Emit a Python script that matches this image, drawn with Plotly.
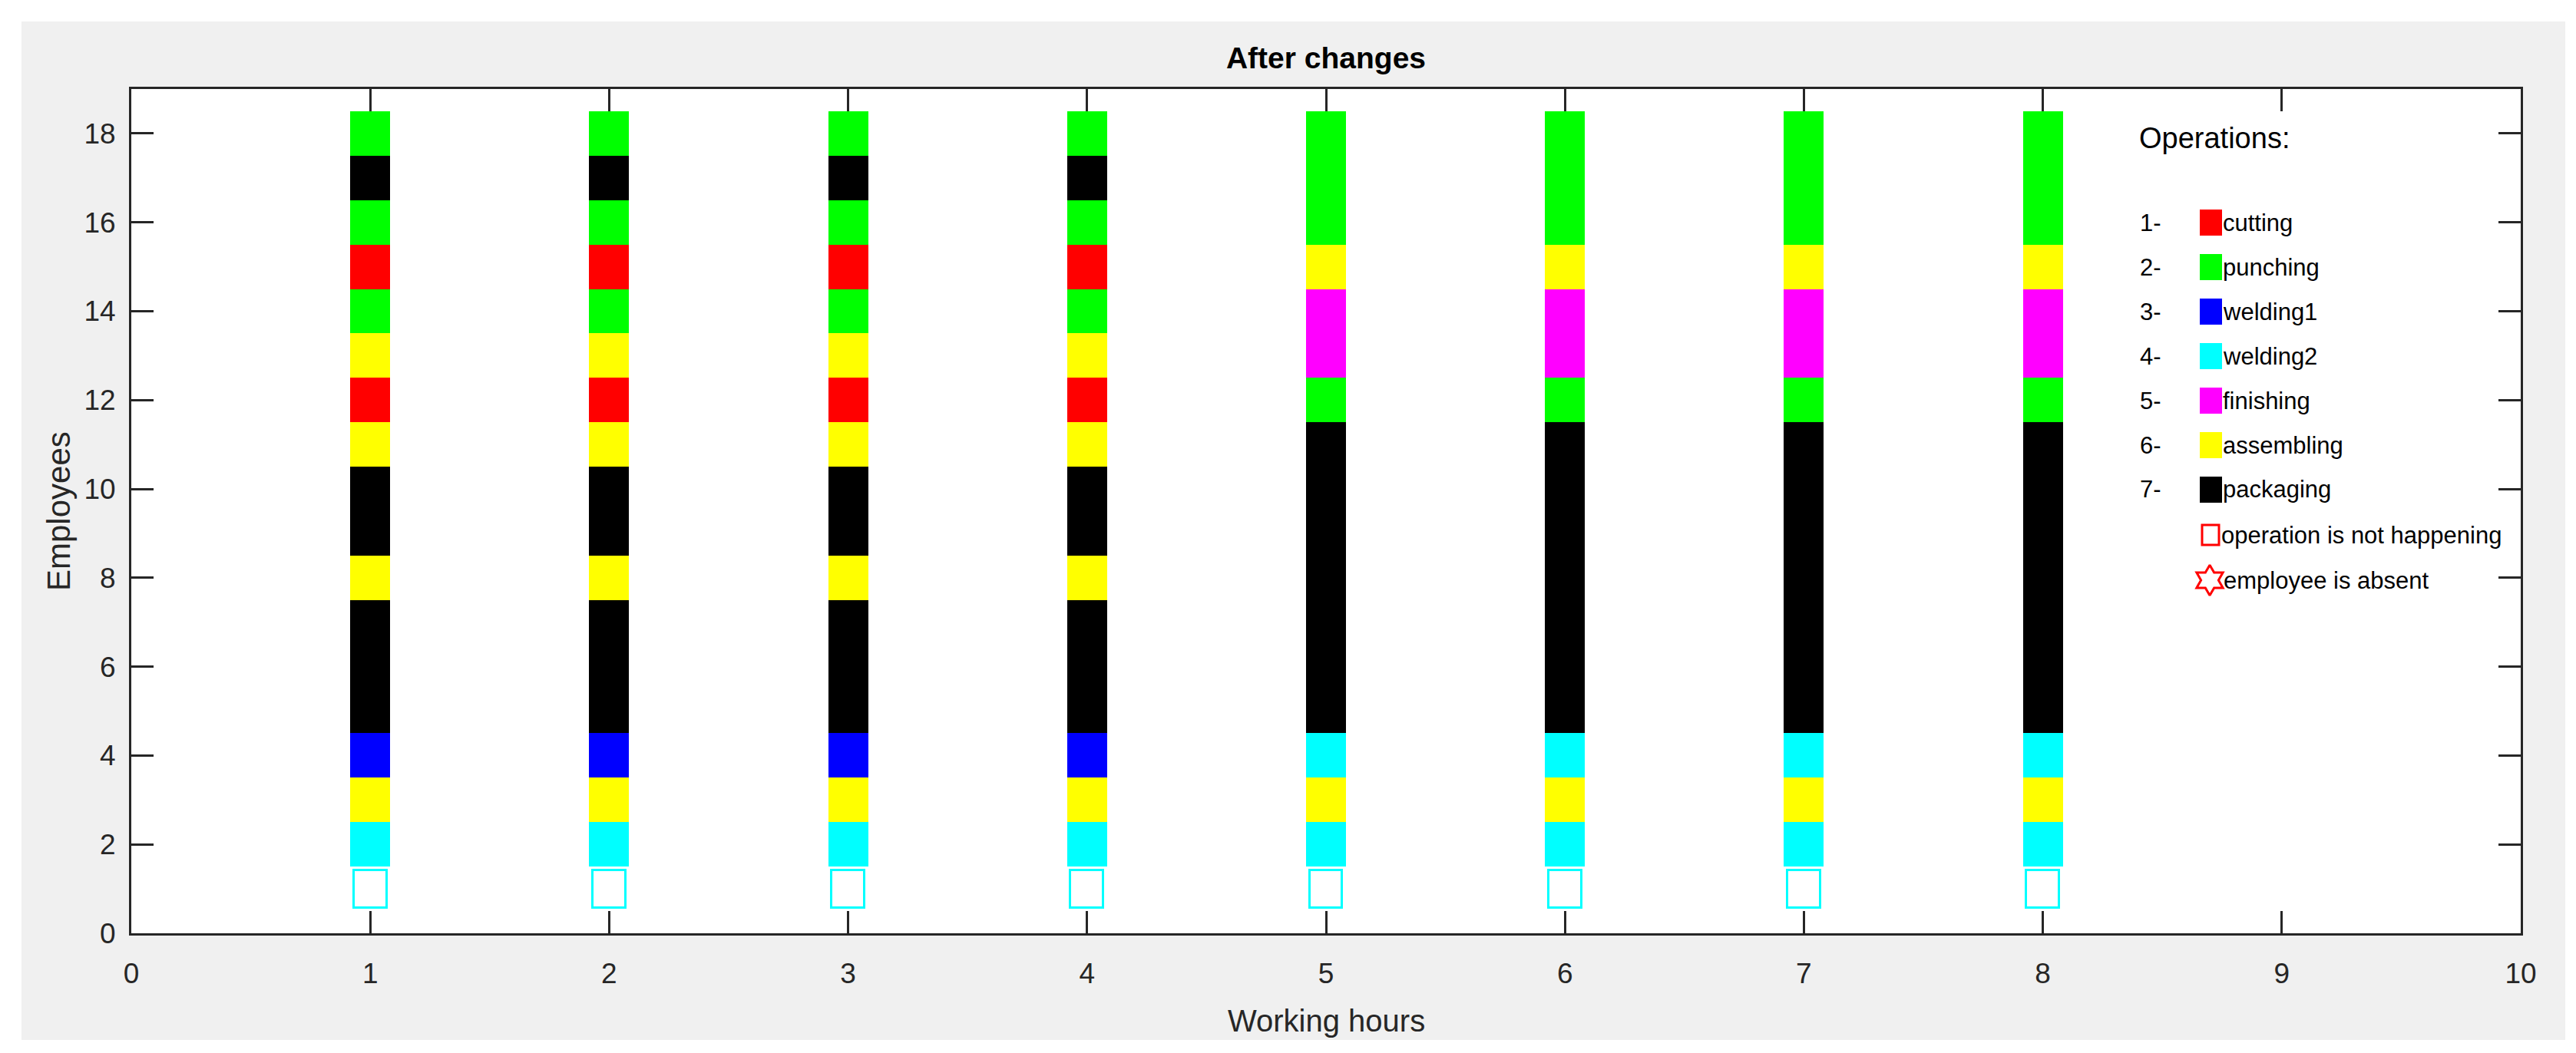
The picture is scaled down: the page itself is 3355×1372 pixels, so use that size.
import plotly.graph_objects as go

# ---------------- data ----------------
hours = [1, 2, 3, 4, 5, 6, 7, 8]
employees = list(range(1, 19))

# operation code per employee (1..18, bottom to top) for each working hour
# 0 = operation is not happening
op_hour1 = [0, 4, 6, 3, 7, 7, 7, 6, 7, 7, 6, 1, 6, 2, 1, 2, 7, 2]
op_hour2 = [0, 4, 6, 3, 7, 7, 7, 6, 7, 7, 6, 1, 6, 2, 1, 2, 7, 2]
op_hour3 = [0, 4, 6, 3, 7, 7, 7, 6, 7, 7, 6, 1, 6, 2, 1, 2, 7, 2]
op_hour4 = [0, 4, 6, 3, 7, 7, 7, 6, 7, 7, 6, 1, 6, 2, 1, 2, 7, 2]
op_hour5 = [0, 4, 6, 4, 7, 7, 7, 7, 7, 7, 7, 2, 5, 5, 6, 2, 2, 2]
op_hour6 = [0, 4, 6, 4, 7, 7, 7, 7, 7, 7, 7, 2, 5, 5, 6, 2, 2, 2]
op_hour7 = [0, 4, 6, 4, 7, 7, 7, 7, 7, 7, 7, 2, 5, 5, 6, 2, 2, 2]
op_hour8 = [0, 4, 6, 4, 7, 7, 7, 7, 7, 7, 7, 2, 5, 5, 6, 2, 2, 2]
schedule = [op_hour1, op_hour2, op_hour3, op_hour4,
            op_hour5, op_hour6, op_hour7, op_hour8]

op_codes = [1, 2, 3, 4, 5, 6, 7]
op_names = ["cutting", "punching", "welding1", "welding2",
            "finishing", "assembling", "packaging"]
op_colors = ["#ff0000", "#00ff00", "#0000ff", "#00ffff",
             "#ff00ff", "#ffff00", "#000000"]

x_ticks = [0, 1, 2, 3, 4, 5, 6, 7, 8, 9, 10]
y_ticks = [0, 2, 4, 6, 8, 10, 12, 14, 16, 18]

# ---------------- geometry (pixels) ----------------
W, H = 3355, 1372
L, R, T, B = 163, 3275, 108, 1208
AX = "#262626"
FONT = "Liberation Sans, Arial, sans-serif"


def px_x(p):
    return (p - L) / (R - L)


def px_y(p):
    return (B - p) / (B - T)


fig = go.Figure()

# operation bars
for code, name, col in zip(op_codes, op_names, op_colors):
    xs, bases = [], []
    for h, ops in zip(hours, schedule):
        for e, o in zip(employees, ops):
            if o == code:
                xs.append(h)
                bases.append(e - 0.5)
    fig.add_trace(go.Bar(
        x=xs, y=[1] * len(xs), base=bases, width=0.167,
        marker=dict(color=col, line=dict(width=0)),
        name=name, showlegend=False, hoverinfo="skip"))

# operation not happening (hollow squares)
xs, bases = [], []
for h, ops in zip(hours, schedule):
    for e, o in zip(employees, ops):
        if o == 0:
            xs.append(h)
            bases.append(e - 0.423)
fig.add_trace(go.Bar(
    x=xs, y=[0.846] * len(xs), base=bases, width=0.138,
    marker=dict(color="rgba(0,0,0,0)", line=dict(color="#00ffff", width=3)),
    showlegend=False, hoverinfo="skip"))

# ---------------- custom legend ----------------
shapes = []
annotations = []
# background: grey figure area and white axes area
shapes.append(dict(type="rect", xref="paper", yref="paper", layer="below",
                   x0=px_x(20), x1=px_x(3333), y0=px_y(1347), y1=px_y(20),
                   fillcolor="#f0f0f0", line=dict(width=0)))
shapes.append(dict(type="rect", xref="paper", yref="paper", layer="below",
                   x0=0, x1=1, y0=0, y1=1,
                   fillcolor="#ffffff", line=dict(width=0)))

annotations.append(dict(text="Operations:", xref="paper", yref="paper",
                        x=px_x(2776), y=px_y(172), xanchor="left", yanchor="middle",
                        showarrow=False, font=dict(size=38, color="#000000", family=FONT)))

row_y = [282, 340, 398, 456, 514, 572, 630, 689, 748]
for i, (name, col) in enumerate(zip(op_names, op_colors)):
    yc = row_y[i]
    annotations.append(dict(text=f"{i + 1}-", xref="paper", yref="paper",
                            x=px_x(2777), y=px_y(yc), xanchor="left", yanchor="middle",
                            showarrow=False, font=dict(size=31, color="#000000", family=FONT)))
    shapes.append(dict(type="rect", xref="paper", yref="paper",
                       x0=px_x(2857), x1=px_x(2886), y0=px_y(yc + 17), y1=px_y(yc - 17),
                       fillcolor=col, line=dict(width=0)))
    annotations.append(dict(text=name, xref="paper", yref="paper",
                            x=px_x(2885), y=px_y(yc), xanchor="left", yanchor="middle",
                            showarrow=False, font=dict(size=31, color="#000000", family=FONT)))

# operation not happening legend entry
yc = row_y[7]
shapes.append(dict(type="rect", xref="paper", yref="paper",
                   x0=px_x(2860), x1=px_x(2882), y0=px_y(yc + 13), y1=px_y(yc - 13),
                   fillcolor="rgba(0,0,0,0)", line=dict(color="#ff0000", width=3)))
annotations.append(dict(text="operation is not happening", xref="paper", yref="paper",
                        x=px_x(2883), y=px_y(yc), xanchor="left", yanchor="middle",
                        showarrow=False, font=dict(size=31, color="#000000", family=FONT)))
# employee is absent legend entry
yc = row_y[8]
fig.add_trace(go.Scatter(
    x=[px_x(2870)], y=[px_y(yc)], xaxis="x2", yaxis="y2", mode="markers",
    marker=dict(symbol="hexagram-open", size=30, color="#ff0000",
                line=dict(color="#ff0000", width=3)),
    showlegend=False, hoverinfo="skip"))
annotations.append(dict(text="employee is absent", xref="paper", yref="paper",
                        x=px_x(2886), y=px_y(yc), xanchor="left", yanchor="middle",
                        showarrow=False, font=dict(size=31, color="#000000", family=FONT)))

# axis titles
annotations.append(dict(text="Working hours", xref="paper", yref="paper",
                        x=0.5, y=px_y(1322), xanchor="center", yanchor="middle",
                        showarrow=False, font=dict(size=40, color=AX, family=FONT)))
annotations.append(dict(text="Employees", xref="paper", yref="paper",
                        x=px_x(68), y=0.5, xanchor="center", yanchor="middle", textangle=-90,
                        showarrow=False, font=dict(size=42, color=AX, family=FONT)))

fig.update_layout(
    width=W, height=H,
    margin=dict(l=L, r=W - R, t=T, b=H - B, autoexpand=False),
    paper_bgcolor="#ffffff", plot_bgcolor="rgba(0,0,0,0)",
    barmode="overlay", bargap=0,
    showlegend=False,
    title=dict(text="<b>After changes</b>", x=0.5, xref="paper", xanchor="center",
               y=1 - 67 / H, yref="container", yanchor="middle",
               font=dict(size=39, color="#000000", family=FONT)),
    font=dict(family=FONT, color=AX),
    shapes=shapes, annotations=annotations,
    xaxis=dict(range=[0, 10], tickvals=x_ticks, ticks="inside", ticklen=29, tickwidth=2.5,
               tickcolor=AX, showline=True, linecolor=AX, linewidth=3, mirror="ticks",
               showgrid=False, zeroline=False, tickfont=dict(size=37, color=AX, family=FONT),
               ticklabelstandoff=18, fixedrange=True),
    yaxis=dict(range=[0, 19], tickvals=y_ticks, ticks="inside", ticklen=29, tickwidth=2.5,
               tickcolor=AX, showline=True, linecolor=AX, linewidth=3, mirror="ticks",
               showgrid=False, zeroline=False, tickfont=dict(size=37, color=AX, family=FONT),
               ticklabelstandoff=10, fixedrange=True),
    xaxis2=dict(overlaying="x", range=[0, 1], visible=False, fixedrange=True),
    yaxis2=dict(overlaying="y", range=[0, 1], visible=False, fixedrange=True),
)

fig.write_html("out.html")
